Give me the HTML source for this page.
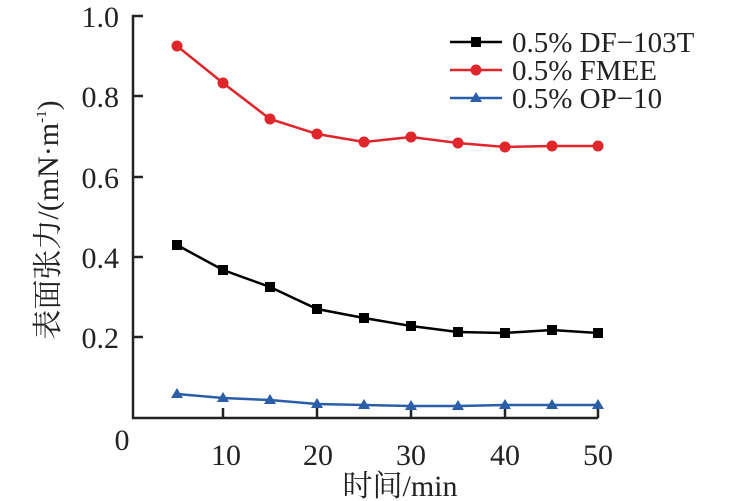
<!DOCTYPE html>
<html><head><meta charset="utf-8"><style>body{margin:0;background:#fff}svg{display:block}text{font-family:"Liberation Serif","Noto Serif CJK SC",serif;fill:#222}</style></head><body>
<svg width="755" height="501" viewBox="0 0 755 501">
<g stroke="#222" stroke-width="2.5" fill="none">
<path d="M143,16H133V418H598"/>
<path d="M133,96H143M133,177H143M133,257H143M133,337H143"/>
<path d="M223,418V408M317,418V408M411,418V408M505,418V408M598,418V408"/>
</g>
<g font-size="30" text-anchor="end">
<text x="119" y="27">1.0</text><text x="119" y="107">0.8</text><text x="119" y="188">0.6</text><text x="119" y="268">0.4</text><text x="119" y="348">0.2</text>
</g>
<g font-size="30" text-anchor="middle">
<text x="122" y="450">0</text><text x="226" y="465">10</text><text x="318" y="465">20</text><text x="411" y="465">30</text><text x="505" y="465">40</text><text x="598" y="465">50</text>
<text x="400" y="496" font-size="30">时间/min</text>
<text transform="translate(58,220) rotate(-90)" font-size="30">表面张力/(mN·m<tspan font-size="15" dy="-12">-1</tspan><tspan dy="12">)</tspan></text>
</g>
<polyline fill="none" stroke="#000" stroke-width="2.5" points="177,245 223,270 270,287 317,309 364,318 411,326 458,332 505,333 552,330 598,333"/>
<g fill="#000"><rect x="172" y="240" width="10" height="10"/><rect x="218" y="265" width="10" height="10"/><rect x="265" y="282" width="10" height="10"/><rect x="312" y="304" width="10" height="10"/><rect x="359" y="313" width="10" height="10"/><rect x="406" y="321" width="10" height="10"/><rect x="453" y="327" width="10" height="10"/><rect x="500" y="328" width="10" height="10"/><rect x="547" y="325" width="10" height="10"/><rect x="593" y="328" width="10" height="10"/></g>
<polyline fill="none" stroke="#e0252b" stroke-width="2.5" points="177,46 223,83 270,119 317,134 364,142 411,137 458,143 505,147 552,146 598,146"/>
<g fill="#e0252b"><circle cx="177" cy="46" r="5.5"/><circle cx="223" cy="83" r="5.5"/><circle cx="270" cy="119" r="5.5"/><circle cx="317" cy="134" r="5.5"/><circle cx="364" cy="142" r="5.5"/><circle cx="411" cy="137" r="5.5"/><circle cx="458" cy="143" r="5.5"/><circle cx="505" cy="147" r="5.5"/><circle cx="552" cy="146" r="5.5"/><circle cx="598" cy="146" r="5.5"/></g>
<polyline fill="none" stroke="#2a5ea8" stroke-width="2.5" points="177,394 223,398 270,400 317,404 364,405 411,406 458,406 505,405 552,405 598,405"/>
<g fill="#2a5ea8">
<path d="M177,388l6,10h-12z"/><path d="M223,392l6,10h-12z"/><path d="M270,394l6,10h-12z"/><path d="M317,398l6,10h-12z"/><path d="M364,399l6,10h-12z"/><path d="M411,400l6,10h-12z"/><path d="M458,400l6,10h-12z"/><path d="M505,399l6,10h-12z"/><path d="M552,399l6,10h-12z"/><path d="M598,399l6,10h-12z"/>
</g>
<g stroke-width="2.5">
<line x1="450" y1="42" x2="502" y2="42" stroke="#000"/><rect x="471" y="37" width="10" height="10" fill="#000"/>
<line x1="450" y1="70" x2="502" y2="70" stroke="#e0252b"/><circle cx="476" cy="70" r="5.5" fill="#e0252b"/>
<line x1="450" y1="98" x2="502" y2="98" stroke="#2a5ea8"/><path d="M476,92l6,10h-12z" fill="#2a5ea8"/>
</g>
<g font-size="29"><text x="512" y="52">0.5% DF−103T</text><text x="512" y="80">0.5% FMEE</text><text x="512" y="108">0.5% OP−10</text></g>
</svg>
</body></html>
